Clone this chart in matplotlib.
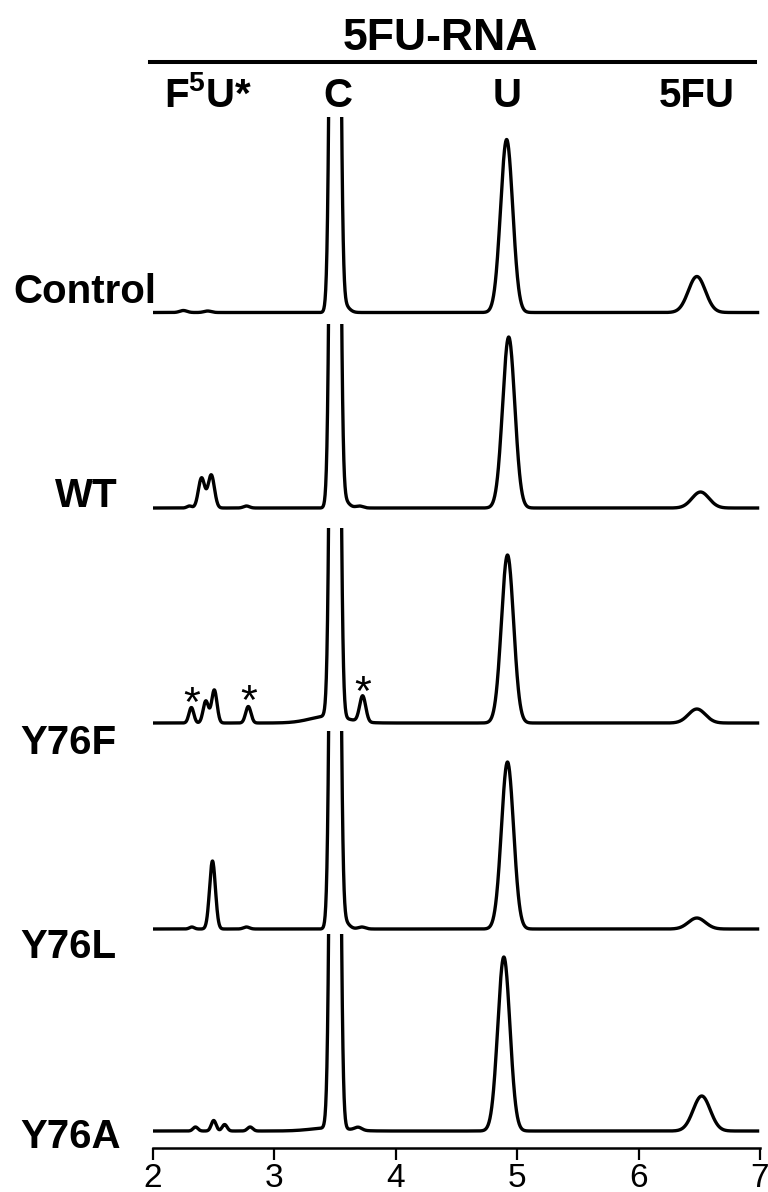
import numpy as np
import matplotlib.pyplot as plt
from matplotlib.lines import Line2D

plt.rcParams['font.family'] = ['Liberation Sans', 'DejaVu Sans']
plt.rcParams['mathtext.fontset'] = 'custom'
plt.rcParams['mathtext.rm'] = 'Liberation Sans'
plt.rcParams['mathtext.bf'] = 'Liberation Sans:bold'

samples = ['Control', 'WT', 'Y76F', 'Y76L', 'Y76A']
peak_names = ['F$^{\\mathbf{5}}$U*', 'C', 'U', '5FU']
xticks = [2, 3, 4, 5, 6, 7]

# peak tables per sample: retention time (min), height, sigma (min)
control_rt = [2.25, 2.45, 3.50, 3.57, 4.913, 6.48]
control_ht = [2.0, 1.5, 1400, 8, 173, 36]
control_sd = [0.03, 0.03, 0.027, 0.04, 0.05, 0.07]

wt_rt = [2.30, 2.40, 2.48, 2.77, 3.50, 3.57, 3.70, 4.93, 6.51]
wt_ht = [2.0, 30, 33, 2.0, 1400, 8, 2.0, 171, 16]
wt_sd = [0.02, 0.026, 0.026, 0.025, 0.027, 0.04, 0.03, 0.05, 0.07]

y76f_rt = [2.316, 2.435, 2.505, 2.785, 3.45, 3.50, 3.727, 4.92, 6.48]
y76f_ht = [15.5, 22, 33, 16.5, 7, 1400, 26, 168, 14]
y76f_sd = [0.02, 0.022, 0.022, 0.022, 0.15, 0.027, 0.025, 0.05, 0.07]

y76l_rt = [2.32, 2.49, 2.77, 3.50, 3.57, 3.72, 4.92, 6.48]
y76l_ht = [2.0, 68, 2.0, 1400, 8, 2.0, 167, 11]
y76l_sd = [0.02, 0.024, 0.025, 0.027, 0.04, 0.03, 0.05, 0.07]

y76a_rt = [2.35, 2.50, 2.59, 2.80, 3.45, 3.50, 3.69, 4.89, 6.52]
y76a_ht = [4, 10.5, 6.5, 4, 3, 1400, 3, 174, 35]
y76a_sd = [0.02, 0.02, 0.02, 0.022, 0.15, 0.027, 0.03, 0.05, 0.07]

# starred peaks in the Y76F run
y76f_stars = [2.316, 2.785, 3.727]

tables = [(control_rt, control_ht, control_sd), (wt_rt, wt_ht, wt_sd),
          (y76f_rt, y76f_ht, y76f_sd), (y76l_rt, y76l_ht, y76l_sd),
          (y76a_rt, y76a_ht, y76a_sd)]

W, H = 768, 1192
fig = plt.figure(figsize=(W / 100, H / 100), dpi=100)

# panel layout in pixels
baselines = [312.5, 508, 723, 929, 1131]
tops = [117, 324, 528, 731, 934]
pads = [10, 10, 10, 10, 17]
label_x = [13, 55, 20, 20, 20]
label_y = [303, 507, 754, 958, 1148]

t = np.linspace(2.0, 6.98, 2000)


def trace(rt, ht, sd):
    y = np.zeros_like(t)
    for r, h, s in zip(rt, ht, sd):
        y += h * np.exp(-0.5 * ((t - r) / s) ** 2)
    return y


left, right = 153 / W, 760 / W
for i, name in enumerate(samples):
    base, top, pad = baselines[i], tops[i], pads[i]
    ax = fig.add_axes([left, 1 - (base + pad) / H, right - left, (base + pad - top) / H])
    ax.set_xlim(2, 7)
    ax.set_ylim(-pad, base - top)
    rt, ht, sd = tables[i]
    ax.plot(t, trace(rt, ht, sd), color='black', lw=2.4, solid_joinstyle='round')
    for s in ['top', 'left', 'right']:
        ax.spines[s].set_visible(False)
    ax.set_yticks([])
    if i < len(samples) - 1:
        ax.spines['bottom'].set_visible(False)
        ax.set_xticks([])
    else:
        ax.spines['bottom'].set_linewidth(1.8)
        ax.set_xticks(xticks)
        ax.tick_params(axis='x', direction='out', length=8.6, width=1.6,
                       labelsize=24, pad=2)
    if name == 'Y76F':
        for x in y76f_stars:
            h = ht[rt.index(x)]
            ax.text(x, h - 8, '*', ha='center', va='baseline', fontsize=31)
    fig.text(label_x[i] / W, 1 - label_y[i] / H, name, ha='left', va='baseline',
             fontsize=29, fontweight='bold')

fig.text(440 / W, 1 - 50 / H, '5FU-RNA', ha='center', va='baseline',
         fontsize=32, fontweight='bold')
fig.add_artist(Line2D([150 / W, 755 / W], [1 - 62 / H] * 2,
                      transform=fig.transFigure, color='black', lw=2.9))

label_pos = [208, 338, 507, 697]
for x, lab in zip(label_pos, peak_names):
    fig.text(x / W, 1 - 107 / H, lab, ha='center', va='baseline',
             fontsize=29, fontweight='bold')

fig.savefig('out.png', dpi=100)
